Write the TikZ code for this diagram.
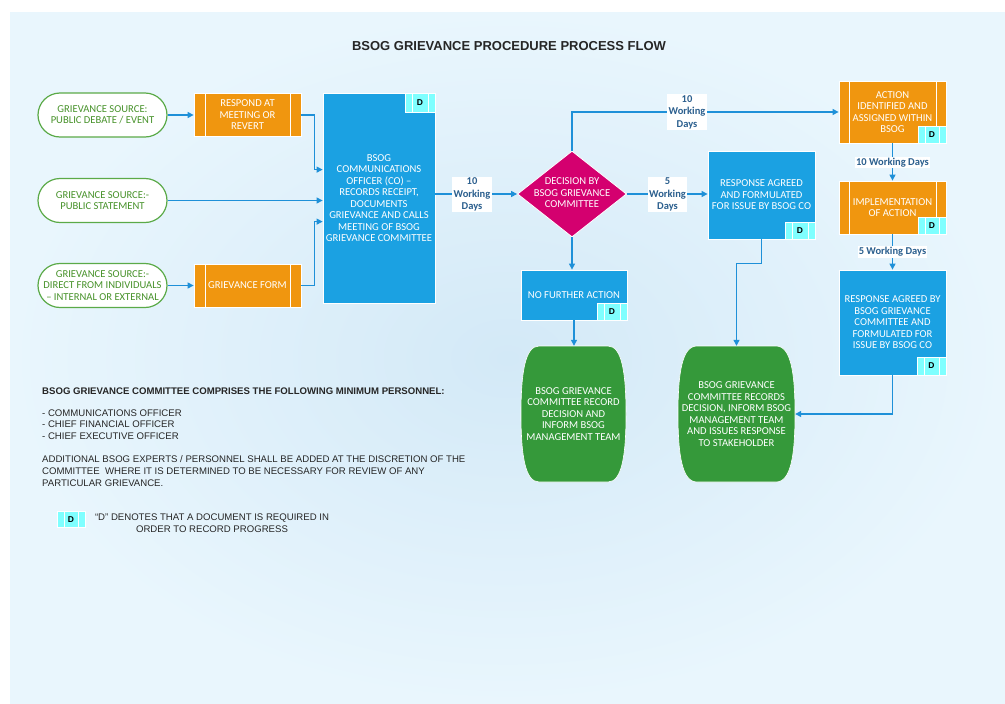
\documentclass[tikz,border=0pt]{standalone}
\usepackage{fontspec}
\setmainfont{Liberation Sans}
\newfontfamily\calfont[Ligatures=TeX]{Carlito}
\usetikzlibrary{arrows.meta,shapes.geometric,calc}
\definecolor{boxblue}{HTML}{1BA1E2}
\definecolor{boxorange}{HTML}{F0960F}
\definecolor{linecol}{HTML}{1E90D8}
\definecolor{badgecyan}{HTML}{7FFFFF}
\definecolor{decmag}{HTML}{D4006F}
\definecolor{endgreen}{HTML}{35993A}
\definecolor{srcgreen}{HTML}{5BAA48}
\definecolor{srctext}{HTML}{47922A}
\definecolor{lblcol}{HTML}{2B5F8E}
\definecolor{bgin}{HTML}{D3E9F7}
\definecolor{bgout}{HTML}{E9F6FD}
\newcommand{\boxfont}{\calfont\fontsize{10.6}{11.5}\selectfont}
\newcommand{\notefont}{\fontsize{9.6}{11.7}\selectfont}
\tikzset{
  arr/.style={draw=linecol, line width=1.2pt, -{Triangle[length=6pt,width=6pt]}},
  bluebox/.style={rectangle, fill=boxblue, draw=white, line width=0.8pt, text=white,
    align=center, font=\boxfont, inner sep=2pt},
  orangebox/.style={rectangle, fill=boxorange, draw=white, line width=0.8pt, text=white,
    align=center, font=\boxfont, inner sep=2pt,
    path picture={\draw[white,line width=0.8pt]
      ([xshift=#1]path picture bounding box.north west) -- ([xshift=#1]path picture bounding box.south west)
      ([xshift=-#1]path picture bounding box.north east) -- ([xshift=-#1]path picture bounding box.south east);}},
  orangebox/.default=11pt,
  srcbox/.style={rectangle, rounded corners=22pt, draw=srcgreen, line width=1.2pt, fill=white,
    text=srctext, minimum width=129pt, minimum height=44pt, align=center, font=\boxfont, inner sep=1pt},
  badge/.style={rectangle, fill=badgecyan, draw=white, line width=0.8pt, minimum width=30pt,
    minimum height=17pt, inner sep=0pt, text=black, font=\fontsize{8.5}{9}\selectfont\bfseries,
    path picture={\draw[white,line width=0.8pt]
      ([xshift=7pt]path picture bounding box.north west) -- ([xshift=7pt]path picture bounding box.south west)
      ([xshift=-7pt]path picture bounding box.north east) -- ([xshift=-7pt]path picture bounding box.south east);}},
  lbl/.style={fill=white, inner sep=1.2pt, text=lblcol, align=center,
    font=\calfont\bfseries\fontsize{10.5}{12.5}\selectfont},
  endtext/.style={rectangle, text=white, align=center, font=\boxfont, inner sep=0pt},
  note/.style={anchor=base west, inner sep=0pt, font=\notefont, text=black!85},
}
\begin{document}
\begin{tikzpicture}[x=1pt,y=-1pt]
\useasboundingbox (0,0) rectangle (1005,704);
\fill[white] (0,0) rectangle (1005,704);
\shade[inner color=bgin, outer color=bgout] (10,12) rectangle (1005,704);

% title
\node[anchor=base, inner sep=0pt, font=\fontsize{13}{14}\selectfont\bfseries, text=black!85] (title) at (509,50.4) {BSOG GRIEVANCE PROCEDURE PROCESS FLOW};

% sources
\node[srcbox] (s1) at (102.5,115) {GRIEVANCE SOURCE:\\PUBLIC DEBATE / EVENT};
\node[srcbox] (s2) at (102.5,200.5) {GRIEVANCE SOURCE:-\\PUBLIC STATEMENT};
\node[srcbox] (s3) at (102.5,285.5) {GRIEVANCE SOURCE:-\\DIRECT FROM INDIVIDUALS\\– INTERNAL OR EXTERNAL};

% orange predefined processes
\node[orangebox, minimum width=107pt, minimum height=43pt] (r1) at (247.5,115) {RESPOND AT\\MEETING OR\\REVERT};
\node[orangebox, minimum width=107pt, minimum height=43pt] (gf) at (247.5,285.5) {GRIEVANCE FORM};

% CO box
\node[bluebox, minimum width=112pt, minimum height=210pt] (co) at (379,198) {BSOG\\COMMUNICATIONS\\OFFICER (CO) –\\RECORDS RECEIPT,\\DOCUMENTS\\GRIEVANCE AND CALLS\\MEETING OF BSOG\\GRIEVANCE COMMITTEE};
\node[badge, anchor=north east, minimum height=19pt] (cob) at (co.north east) {D};

% decision
\node[diamond, fill=decmag, draw=white, line width=0.8pt, minimum width=109pt, minimum height=86pt, inner sep=0pt] (dec) at (572,194) {};
\node[endtext] (dect) at (572,193) {DECISION BY\\BSOG GRIEVANCE\\COMMITTEE};

% response box
\node[bluebox, minimum width=107pt, minimum height=88pt] (resp) at (761.5,195) {RESPONSE AGREED\\AND FORMULATED\\FOR ISSUE BY BSOG CO};
\node[badge, anchor=south east] (respb) at (resp.south east) {D};

% no further action
\node[bluebox, minimum width=106pt, minimum height=50pt] (nfa) at (574,295) {NO FURTHER ACTION};
\node[badge, anchor=south east] (nfab) at (nfa.south east) {D};

% right column
\node[orangebox=10pt, minimum width=107pt, minimum height=62pt] (act) at (892.5,112) {ACTION\\IDENTIFIED AND\\ASSIGNED WITHIN\\BSOG};
\node[badge, anchor=south east, minimum width=28pt] (actb) at (act.south east) {D};
\node[orangebox=10pt, minimum width=107pt, minimum height=53pt] (impl) at (892.5,207.5) {IMPLEMENTATION\\OF ACTION};
\node[badge, anchor=south east, minimum width=28pt] (implb) at (impl.south east) {D};
\node[bluebox, minimum width=107pt, minimum height=105pt] (resp2) at (892.5,322.5) {RESPONSE AGREED BY\\BSOG GRIEVANCE\\COMMITTEE AND\\FORMULATED FOR\\ISSUE BY BSOG CO};
\node[badge, anchor=south east, minimum width=29pt, minimum height=18pt] (resp2b) at (resp2.south east) {D};

% end barrels
\filldraw[fill=endgreen, draw=white, line width=0.6pt]
  (539,346) -- (608,346) .. controls (622,346) and (626,373) .. (626,414)
  .. controls (626,455) and (622,482) .. (608,482) -- (539,482)
  .. controls (525,482) and (521,455) .. (521,414)
  .. controls (521,373) and (525,346) .. (539,346) -- cycle;
\node[endtext, minimum width=105pt, minimum height=136pt] (o1) at (573.5,414) {BSOG GRIEVANCE\\COMMITTEE RECORD\\DECISION AND\\INFORM BSOG\\MANAGEMENT TEAM};
\filldraw[fill=endgreen, draw=white, line width=0.6pt]
  (697,346) -- (776,346) .. controls (791,346) and (795,373) .. (795,414)
  .. controls (795,455) and (791,482) .. (776,482) -- (697,482)
  .. controls (682,482) and (678,455) .. (678,414)
  .. controls (678,373) and (682,346) .. (697,346) -- cycle;
\node[endtext, minimum width=117pt, minimum height=136pt] (o2) at (736.5,414) {BSOG GRIEVANCE\\COMMITTEE RECORDS\\DECISION, INFORM BSOG\\MANAGEMENT TEAM\\AND ISSUES RESPONSE\\TO STAKEHOLDER};

% connectors
\draw[arr] (s1.east) -- (r1.west);
\draw[arr] (s3.east) -- (gf.west);
\draw[arr] (s2.east) -- (s2.east -| co.west);
\draw[arr] (r1.east) -- ++(13,0) |- ($(co.north west)+(0,77)$);
\draw[arr] (gf.east) -- ++(13,0) |- ($(co.north west)+(0,129)$);
\draw[arr] (co.east |- dec.west) -- (dec.west);
\node[lbl] (l1) at (472,194.5) {10\\Working\\Days};
\draw[arr] (dec.north) |- (act.west);
\node[lbl] (l2) at (687,112) {10\\Working\\Days};
\draw[arr] (dec.east) -- (dec.east -| resp.west);
\node[lbl] (l3) at (667.5,194.5) {5\\Working\\Days};
\draw[arr] (dec.south) -- (dec.south |- nfa.north);
\draw[arr] (nfa.south) -- (nfa.south |- o1.north);
\draw[arr] (resp.south) -- ++(0,24) -| (o2.north);
\draw[arr] (act.south) -- (impl.north);
\node[lbl] (l4) at (892.5,162.5) {10 Working Days};
\draw[arr] (impl.south) -- (resp2.north);
\node[lbl] (l5) at (892.5,252) {5 Working Days};
\draw[arr] (resp2.south) |- (o2.east);

% notes
\node[note, font=\notefont\bfseries] (n1) at (42,394.5) {BSOG GRIEVANCE COMMITTEE COMPRISES THE FOLLOWING MINIMUM PERSONNEL:};
\node[note] (n2) at (42,416.3) {- COMMUNICATIONS OFFICER};
\node[note] (n3) at (42,427.9) {- CHIEF FINANCIAL OFFICER};
\node[note] (n4) at (42,439.7) {- CHIEF EXECUTIVE OFFICER};
\node[note] (n5) at (42,462.5) {ADDITIONAL BSOG EXPERTS / PERSONNEL SHALL BE ADDED AT THE DISCRETION OF THE};
\node[note] (n6) at (42,474.3) {COMMITTEE\ \ WHERE IT IS DETERMINED TO BE NECESSARY FOR REVIEW OF ANY};
\node[note] (n7) at (42,486.1) {PARTICULAR GRIEVANCE.};
\node[badge, minimum width=28pt, minimum height=16pt] (legb) at (71,519.5) {D};
\node[note, anchor=base] (n8) at (212,520.5) {“D” DENOTES THAT A DOCUMENT IS REQUIRED IN};
\node[note, anchor=base] (n9) at (212,532.3) {ORDER TO RECORD PROGRESS};
\end{tikzpicture}
\end{document}
